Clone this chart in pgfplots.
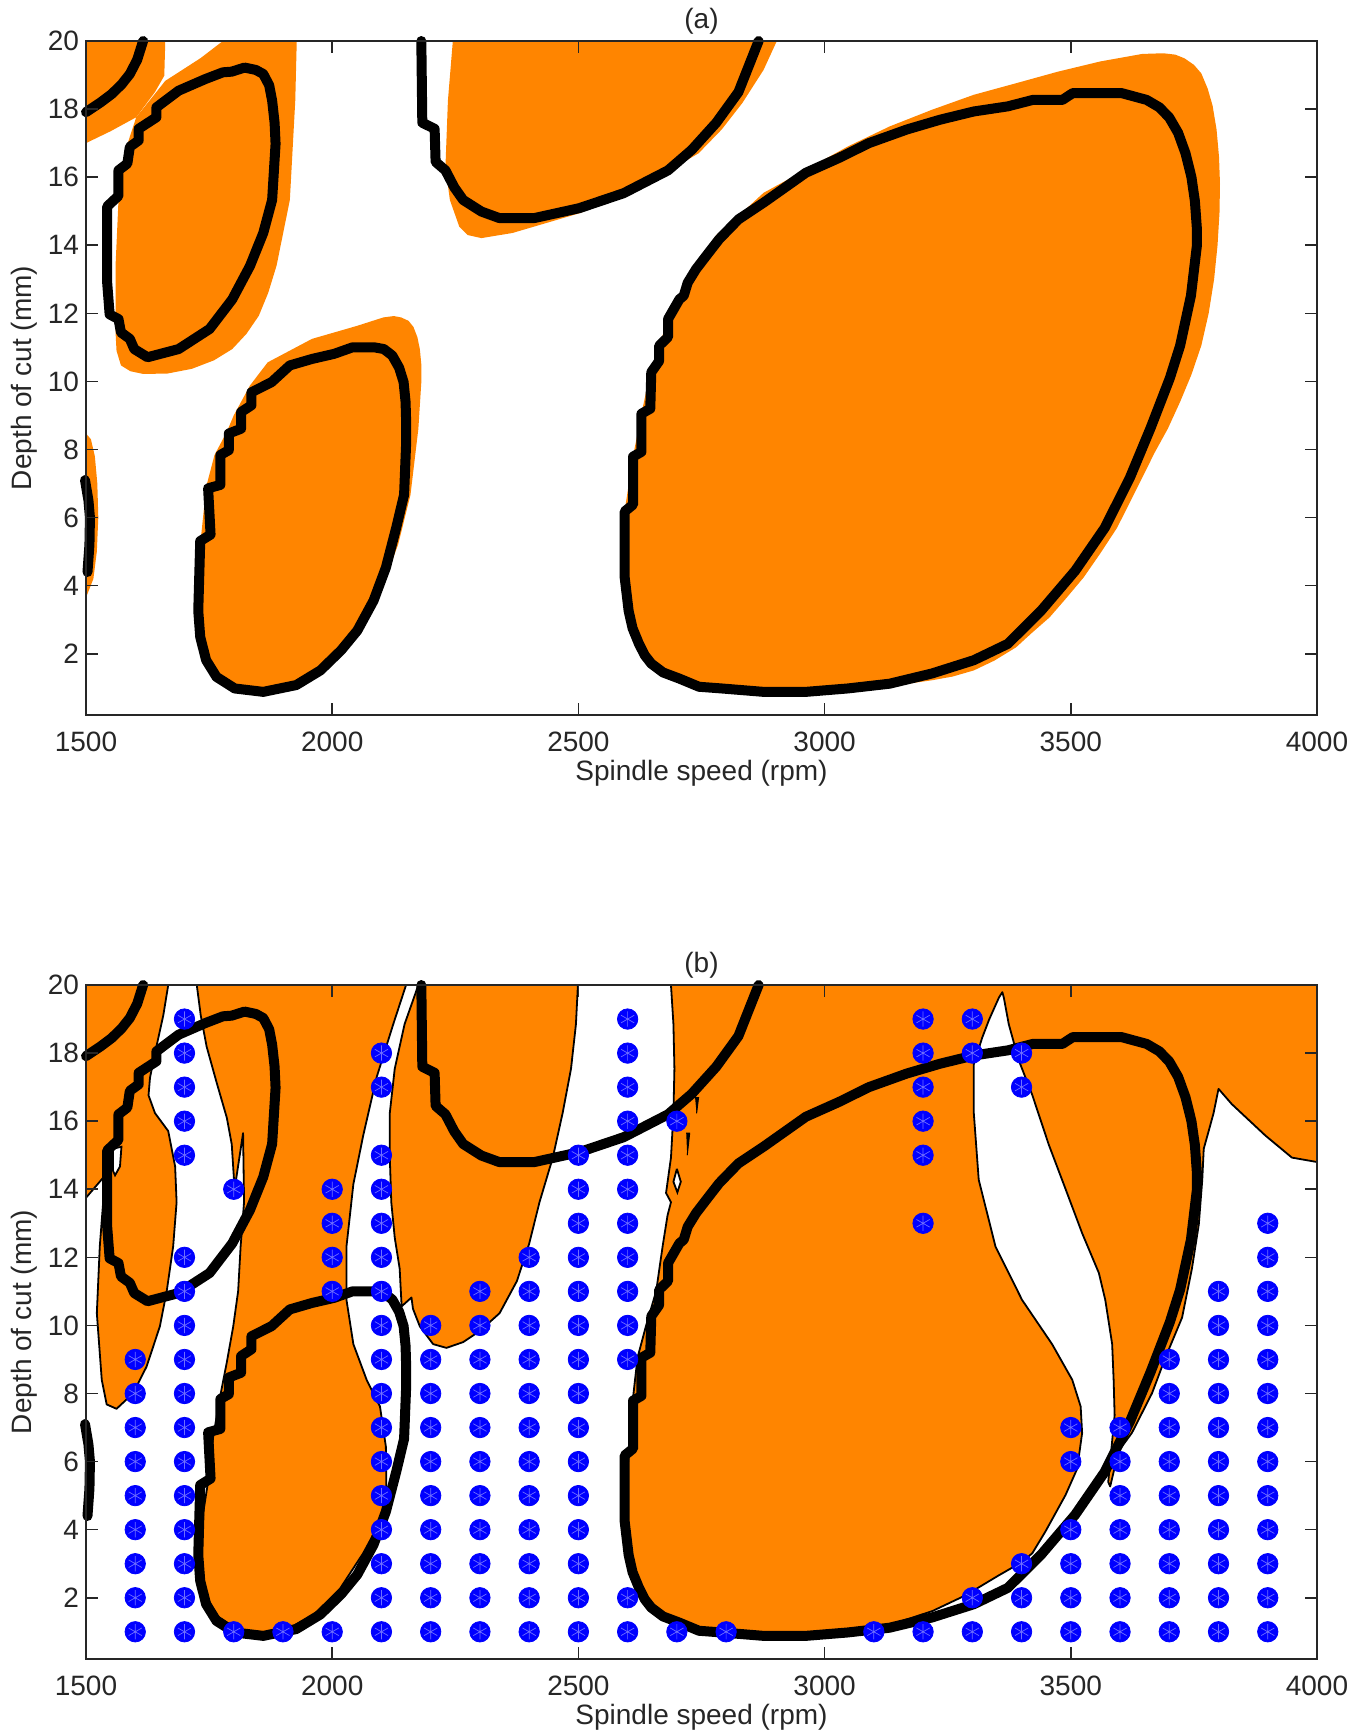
\documentclass[border=0pt]{standalone}
\usepackage{pgfplots}
\usepackage{pgfplotstable}
\pgfplotsset{compat=1.18}
\usepackage{fontspec}
\setmainfont{Liberation Sans}
\definecolor{orng}{RGB}{255,133,0}
\definecolor{agray}{RGB}{38,38,38}
\definecolor{astblue}{RGB}{110,110,255}

\pgfplotstableread{
x y
1600 1
1600 2
1600 3
1600 4
1600 5
1600 6
1600 7
1600 8
1600 9
1700 1
1700 2
1700 3
1700 4
1700 5
1700 6
1700 7
1700 8
1700 9
1700 10
1700 11
1700 12
1700 15
1700 16
1700 17
1700 18
1700 19
1800 1
1800 14
1900 1
2000 1
2000 11
2000 12
2000 13
2000 14
2100 1
2100 2
2100 3
2100 4
2100 5
2100 6
2100 7
2100 8
2100 9
2100 10
2100 11
2100 12
2100 13
2100 14
2100 15
2100 17
2100 18
2200 1
2200 2
2200 3
2200 4
2200 5
2200 6
2200 7
2200 8
2200 9
2200 10
2300 1
2300 2
2300 3
2300 4
2300 5
2300 6
2300 7
2300 8
2300 9
2300 10
2300 11
2400 1
2400 2
2400 3
2400 4
2400 5
2400 6
2400 7
2400 8
2400 9
2400 10
2400 11
2400 12
2500 1
2500 2
2500 3
2500 4
2500 5
2500 6
2500 7
2500 8
2500 9
2500 10
2500 11
2500 12
2500 13
2500 14
2500 15
2600 1
2600 2
2600 9
2600 10
2600 11
2600 12
2600 13
2600 14
2600 15
2600 16
2600 17
2600 18
2600 19
2700 1
2700 16
2800 1
3100 1
3200 1
3200 13
3200 15
3200 16
3200 17
3200 18
3200 19
3300 1
3300 2
3300 18
3300 19
3400 1
3400 2
3400 3
3400 17
3400 18
3500 1
3500 2
3500 3
3500 4
3500 6
3500 7
3600 1
3600 2
3600 3
3600 4
3600 5
3600 6
3600 7
3700 1
3700 2
3700 3
3700 4
3700 5
3700 6
3700 7
3700 8
3700 9
3800 1
3800 2
3800 3
3800 4
3800 5
3800 6
3800 7
3800 8
3800 9
3800 10
3800 11
3900 1
3900 2
3900 3
3900 4
3900 5
3900 6
3900 7
3900 8
3900 9
3900 10
3900 11
3900 12
3900 13
}\dotstable

\pgfplotsset{
  panel/.style={
    scale only axis, width=615.5pt, height=337pt,
    xmin=1500, xmax=4000, ymin=0.2, ymax=20,
    xtick={1500,2000,2500,3000,3500,4000},
    xticklabels={1500,2000,2500,3000,3500,4000},
    ytick={2,4,6,8,10,12,14,16,18,20},
    yticklabels={2,4,6,8,10,12,14,16,18,20},
    tick align=inside, major tick length=6pt,
    axis line style={agray, line width=0.8pt},
    every tick/.style={agray, line width=0.8pt},
    tick label style={font=\fontsize{14}{16}\selectfont, text=agray},
    xticklabel style={yshift=-5pt},
    label style={font=\fontsize{14}{16}\selectfont, text=agray},
    xlabel={Spindle speed (rpm)},
    ylabel={Depth of cut (mm)},
    xlabel style={at={(axis description cs:0.5,-0.086)}, anchor=center},
    ylabel style={at={(axis description cs:-0.050,0.5)}, anchor=center},
    title style={font=\fontsize{14}{16}\selectfont, text=agray, at={(axis description cs:0.5,1)}, anchor=south, yshift=-3pt, inner sep=0pt},
    axis on top, clip=false,
  },
  thickc/.style={black, line width=5pt, line join=round, line cap=round},
  thinb/.style={draw=black, line width=0.9pt, line join=round, fill=orng},
}

\newcommand{\contours}{%
\addplot[thickc] coordinates {(1500,17.91) (1530,18.2) (1552,18.44) (1572,18.72) (1589,19.03) (1604,19.45) (1616,20)};
\addplot[thickc] coordinates {(2181,20) (2183,17.6) (2208,17.42) (2210,16.45) (2230,16.2) (2248,15.7) (2266,15.33) (2303,14.99) (2339,14.8) (2411,14.8) (2502,15.09) (2592,15.53) (2682,16.2) (2730,16.8) (2780,17.6) (2825,18.5) (2866,20)};
\addplot[thickc] coordinates {(1822,19.22) (1845,19.15) (1860,19.03) (1872,18.7) (1878,18.25) (1883,17.6) (1885,16.98) (1878,15.33) (1860,14.36) (1833,13.39) (1797,12.41) (1751,11.54) (1688,10.95) (1625,10.71) (1598,10.95) (1589,11.25) (1571,11.44) (1566,11.83) (1548,11.97) (1543,12.9) (1543,15.14) (1557,15.33) (1566,15.45) (1566,16.2) (1584,16.4) (1589,16.89) (1607,17.08) (1607,17.42) (1643,17.76) (1643,18.05) (1688,18.54) (1742,18.88) (1778,19.08) (1796,19.1) (1822,19.22)};
\addplot[thickc] coordinates {(1498,7.1) (1505,6.5) (1508,6.0) (1507,5.2) (1503,4.4)};
\addplot[thickc] coordinates {(1728,3.26) (1732,5.31) (1753,5.5) (1748,6.86) (1773,6.96) (1773,7.84) (1790,7.98) (1790,8.47) (1815,8.61) (1815,9.1) (1836,9.3) (1836,9.68) (1877,9.98) (1914,10.47) (1959,10.66) (2004,10.81) (2041,11.0) (2086,11.0) (2105,10.95) (2122,10.76) (2136,10.4) (2145,9.98) (2149,9.4) (2150,8.9) (2150,8.13) (2146,6.67) (2130,5.7) (2109,4.53) (2084,3.56) (2051,2.68) (2018,2.1) (1976,1.51) (1927,1.08) (1860,0.88) (1802,0.98) (1765,1.32) (1744,1.81) (1732,2.49) (1728,3.26)};
\addplot[thickc] coordinates {(2594,4.24) (2594,6.18) (2611,6.38) (2611,7.79) (2628,7.93) (2628,9.05) (2646,9.2) (2648,10.27) (2664,10.6) (2664,11.05) (2682,11.3) (2682,11.83) (2705,12.41) (2714,12.52) (2722,12.9) (2739,13.3) (2765,13.79) (2786,14.18) (2825,14.76) (2876,15.25) (2962,16.13) (3030,16.57) (3090,17.0) (3167,17.4) (3235,17.69) (3303,17.93) (3372,18.08) (3423,18.27) (3483,18.27) (3504,18.47) (3603,18.47) (3654,18.27) (3680,18.05) (3700,17.75) (3718,17.3) (3733,16.7) (3745,16.0) (3752,15.3) (3756,14.5) (3756,13.98) (3744,12.52) (3722,11.05) (3701,10.09) (3662,8.63) (3620,7.17) (3569,5.7) (3509,4.44) (3440,3.27) (3372,2.29) (3303,1.81) (3218,1.42) (3132,1.12) (3047,0.98) (2962,0.88) (2876,0.88) (2791,0.98) (2745,1.03) (2705,1.27) (2672,1.45) (2648,1.71) (2635,1.95) (2623,2.29) (2610,2.75) (2602,3.26) (2594,4.24)};
}

\begin{document}
\begin{tikzpicture}
\path[use as bounding box] (0pt,0pt) rectangle (685pt,-865.5pt);

% ---------------- (a) ----------------
\begin{axis}[panel, anchor=south west, at={(43pt,-357.5pt)}, title={(a)}]
\addplot[fill=orng, draw=none] coordinates {(1500,20) (1661,20) (1659,18.98) (1640,18.5) (1602,17.76) (1550,17.35) (1500,17.0)};
\addplot[fill=orng, draw=none] coordinates {(1778,20) (1928,20) (1925,18.25) (1914,15.33) (1887,13.4) (1870,12.6) (1851,11.93) (1826,11.4) (1797,10.95) (1760,10.62) (1715,10.37) (1665,10.23) (1616,10.22) (1590,10.3) (1571,10.47) (1562,10.9) (1560,11.44) (1560,13.39) (1566,15.33) (1580,16.79) (1602,17.76) (1661,18.83) (1688,19.08) (1733,19.5)};
\addplot[fill=orng, draw=none] coordinates {(2245,20) (2903,20) (2876,19.15) (2833,18.18) (2791,17.4) (2744,16.7) (2705,16.37) (2637,15.72) (2502,14.94) (2366,14.36) (2303,14.21) (2275,14.3) (2258,14.55) (2239,15.33) (2230,16.3) (2235,18.25)};
\addplot[fill=orng, draw=none] coordinates {(1500,8.47) (1510,8.3) (1518,7.8) (1523,7) (1525,6) (1522,5) (1515,4.2) (1500,3.65)};
\addplot[fill=orng, draw=none] coordinates {(1728,3.3) (1732,5.2) (1744,6.9) (1761,7.84) (1786,8.52) (1800,9.0) (1833,9.88) (1869,10.56) (1959,11.25) (2050,11.63) (2104,11.88) (2125,11.92) (2140,11.88) (2155,11.78) (2165,11.6) (2173,11.3) (2178,10.95) (2181,10.5) (2181,9.98) (2175,8.61) (2159,6.67) (2134,5.21) (2109,4.24) (2076,3.26) (2043,2.49) (2010,1.9) (1976,1.51) (1927,1.12) (1860,0.85) (1811,0.9) (1778,1.1) (1753,1.5) (1736,2.29)};
\addplot[fill=orng, draw=none] coordinates {(2594,3.5) (2594,6.2) (2611,7.8) (2628,9.05) (2646,10.27) (2664,11.05) (2682,11.83) (2705,12.5) (2740,13.5) (2780,14.3) (2825,14.86) (2876,15.54) (2962,16.22) (3047,16.9) (3132,17.49) (3218,17.98) (3303,18.42) (3389,18.76) (3474,19.1) (3560,19.4) (3645,19.62) (3688,19.64) (3712,19.6) (3731,19.49) (3750,19.3) (3765,19.05) (3778,18.6) (3788,18.1) (3796,17.4) (3801,16.6) (3803,15.8) (3802,14.96) (3798,14.0) (3791,13.0) (3780,12.0) (3765,11.05) (3745,10.2) (3722,9.4) (3697,8.61) (3670,7.9) (3645,7.17) (3594,5.7) (3560,4.95) (3526,4.24) (3490,3.62) (3457,3.07) (3420,2.6) (3389,2.19) (3345,1.8) (3303,1.51) (3260,1.33) (3218,1.22) (3150,1.08) (3090,0.98) (2962,0.83) (2876,0.83) (2791,0.93) (2705,1.3) (2648,1.71) (2623,2.29) (2602,3.0)};
\contours
\end{axis}

% ---------------- (b) ----------------
\begin{axis}[panel, anchor=south west, at={(43pt,-829.5pt)}, title={(b)}]
\addplot[thinb] coordinates {(1500,20) (1667,20) (1657,19.11) (1643,18.19) (1630,17.28) (1627,16.76) (1640,16.24) (1667,15.71) (1681,14.67) (1684,13.62) (1677,12.32) (1664,11.01) (1650,9.97) (1623,8.79) (1596,8.01) (1562,7.55) (1542,7.68) (1532,8.4) (1522,10.36) (1528,12.32) (1539,14.41) (1500,13.75) (1500,20)};
\addplot[thinb] coordinates {(1725,20) (1733,19.11) (1745,18.19) (1765,17.15) (1786,16.1) (1796,15.32) (1800,14.41) (1802,14.02) (1819,15.65) (1821,13.62) (1814,12.32) (1809,11.01) (1799,9.97) (1786,8.92) (1772,7.88) (1758,6.7) (1752,5.79) (1738,4.49) (1735,3.18) (1742,2.14) (1765,1.48) (1806,1.09) (1860,0.96) (1907,1.07) (1961,1.48) (2016,2.27) (2063,3.31) (2097,4.22) (2110,5.14) (2109,6.44) (2097,7.62) (2070,8.4) (2043,9.45) (2029,10.75) (2029,12.32) (2043,14.15) (2063,15.58) (2090,17.28) (2124,18.85) (2150,20) (1725,20)};
\addplot[thinb] coordinates {(2175,20) (2147,18.85) (2127,17.54) (2117,16.24) (2117,14.93) (2120,13.62) (2127,12.58) (2137,11.67) (2141,10.56) (2161,10.82) (2164,10.49) (2178,9.97) (2205,9.45) (2232,9.34) (2266,9.51) (2300,9.84) (2340,10.36) (2375,11.3) (2400,12.4) (2421,13.62) (2448,14.93) (2468,16.24) (2485,17.54) (2495,18.85) (2499,20) (2175,20)};
\addplot[thinb] coordinates {(2688,20) (4000,20) (4000,14.8) (3949,14.93) (3895,15.58) (3827,16.5) (3800,16.95) (3790,16.24) (3780,15.71) (3770,15.19) (3767,14.28) (3760,12.97) (3746,11.67) (3726,10.23) (3692,9.05) (3665,8.01) (3624,6.84) (3597,6.31) (3580,5.27) (3576,5.4) (3589,7.36) (3587,8.4) (3584,9.45) (3570,10.75) (3557,11.54) (3523,12.71) (3489,14.02) (3455,15.32) (3422,16.76) (3394,17.8) (3374,18.85) (3364,19.63) (3361,19.79) (3354,19.63) (3334,18.98) (3320,18.45) (3303,17.67) (3303,16.24) (3313,14.28) (3347,12.32) (3401,10.75) (3462,9.45) (3503,8.4) (3520,7.62) (3523,6.84) (3513,5.79) (3489,5.01) (3449,3.96) (3422,3.31) (3401,3.05) (3354,2.66) (3286,2.07) (3219,1.61) (3124,1.16) (3023,0.96) (2921,0.9) (2800,0.96) (2732,1.09) (2671,1.42) (2631,2.0) (2607,2.79) (2595,3.83) (2595,5.14) (2604,6.44) (2610,7.75) (2620,9.05) (2637,9.97) (2658,11.01) (2671,12.32) (2681,13.23) (2688,13.62) (2678,13.89) (2688,14.93) (2693,16.24) (2695,17.54) (2693,18.85) (2688,20)};
\addplot[draw=black, line width=0.9pt, fill=white] coordinates {(1555,15.19) (1572,15.25) (1569,14.67) (1559,14.41) (1555,14.54) (1555,15.19)};
\addplot[draw=black, line width=0.9pt, fill=white] coordinates {(2700,14.6) (2708,14.22) (2701,13.91) (2693,14.22) (2700,14.6)};
\addplot[fill=black, draw=black, line width=0.5pt] coordinates {(2719,15.65) (2726,15.65) (2721,15.0)};
\addplot[fill=black, draw=black, line width=0.5pt] coordinates {(2737,16.69) (2744,16.69) (2740,16.23)};
\contours
\addplot[only marks, mark=*, mark size=5.1pt, mark options={fill=blue, draw=blue}] table[x=x, y=y] {\dotstable};
\addplot[only marks, mark=asterisk, mark size=3.8pt, mark options={draw=astblue, line width=0.35pt}] table[x=x, y=y] {\dotstable};
\end{axis}
\end{tikzpicture}
\end{document}
